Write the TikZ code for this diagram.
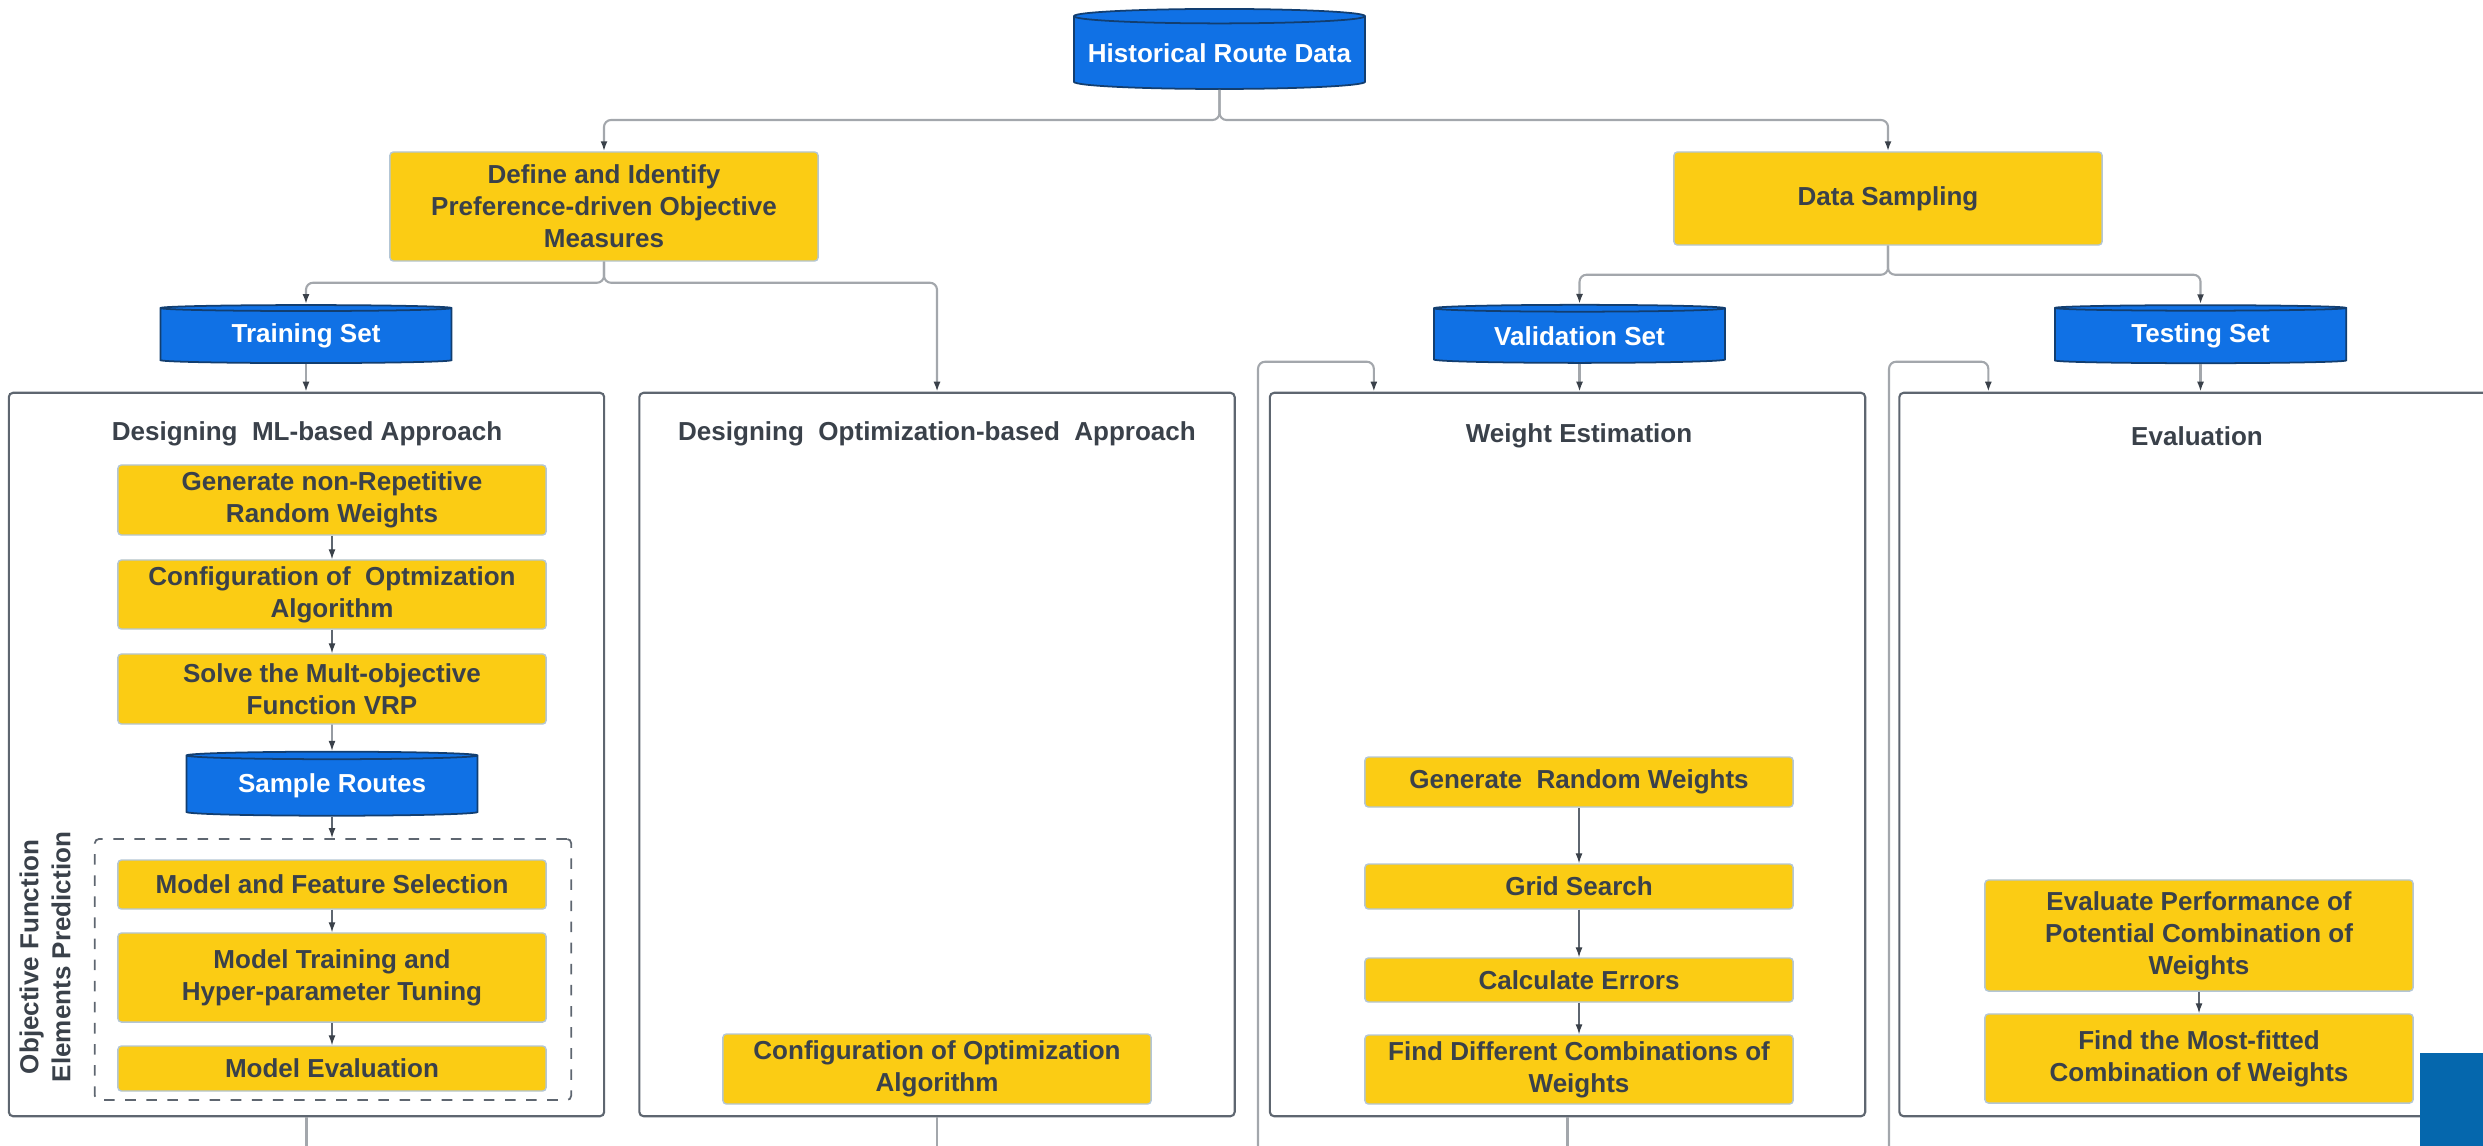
\documentclass[tikz,border=0pt]{standalone}
\usepackage{fontspec}
\setmainfont{Liberation Sans}
\usetikzlibrary{shapes.geometric,arrows.meta}

\definecolor{taskyellow}{HTML}{FBCC14}
\definecolor{taskrim}{HTML}{B3C6D6}
\definecolor{dbblue}{HTML}{1071E5}
\definecolor{dbrim}{HTML}{123E70}
\definecolor{txtgrey}{HTML}{3A414A}
\definecolor{framegrey}{HTML}{5E6670}
\definecolor{treegrey}{HTML}{A3A7AC}
\definecolor{legendblue}{HTML}{0567AD}

\newcommand{\boxfont}{\bfseries\fontsize{7.4}{9.1}\selectfont}

\tikzset{
  task/.style={draw=taskrim, fill=taskyellow, line width=0.4pt, rounded corners=1pt,
    text=txtgrey, font=\boxfont, align=center, inner sep=0pt, minimum width=4.28cm},
  db/.style={cylinder, shape border rotate=90, draw=dbrim, fill=dbblue, line width=0.5pt,
    text=white, font=\boxfont, inner sep=0pt, minimum width=2.91cm, aspect=0.04},
  frame/.style={draw=framegrey, line width=0.6pt, rounded corners=1.2pt,
    minimum width=5.95cm, minimum height=7.23cm},
  heading/.style={text=txtgrey, font=\boxfont},
  tree/.style={draw=treegrey, line width=0.6pt, rounded corners=2pt},
  flow/.style={draw=framegrey, line width=0.35pt},
  tip/.style={-{Latex[length=1mm,width=0.7mm,color=txtgrey]}}
}

\begin{document}
\begin{tikzpicture}[x=0.01cm, y=-0.01cm]
    \useasboundingbox (0,0) rectangle (2483,1145);
    \clip (0,0) rectangle (2483,1145);

    % the four stage frames
    \node[frame] (ml) at (306.5,754.5) {};
    \node[frame] (opt) at (937,754.5) {};
    \node[frame] (wgt) at (1567.5,754.5) {};
    \node[frame] (eva) at (2197,754.5) {};

    \node[heading] (mltitle) at (307,434) {Designing~ ML-based Approach};
    \node[heading] (opttitle) at (937,434) {Designing~ Optimization-based~ Approach};
    \node[heading] (wgttitle) at (1579,436) {Weight Estimation};
    \node[heading] (evatitle) at (2197,436) {Evaluation};

    % top of the tree
    \node[db, minimum height=0.80cm, aspect=0.055] (hist) at (1219.5,53) {Historical Route Data};
    \node[task, minimum height=1.09cm] (define) at (604,206.5)
        {Define and Identify\\Preference-driven Objective\\Measures};
    \node[task, minimum height=0.93cm] (sampling) at (1888,198.5) {Data Sampling};

    \node[db, minimum height=0.58cm] (train) at (306,336) {Training Set};
    \node[db, minimum height=0.58cm] (valid) at (1579.5,336) {Validation Set};
    \node[db, minimum height=0.58cm] (test) at (2200.5,336) {Testing Set};

    % ML-based approach
    \node[task, minimum height=0.70cm] (gen) at (332,500) {Generate non-Repetitive\\Random Weights};
    \node[task, minimum height=0.69cm] (conf) at (332,594.5) {Configuration of~ Optmization\\Algorithm};
    \node[task, minimum height=0.70cm] (solve) at (332,689) {Solve the Mult-objective\\Function VRP};
    \node[db, minimum height=0.64cm] (sample) at (332,786) {Sample Routes};

    \node[draw=framegrey, dashed, line width=0.5pt, rounded corners=1.2pt,
        minimum width=4.76cm, minimum height=2.61cm] (pred) at (333,969.5) {};
    \node[heading, rotate=90, align=center] (predlabel) at (45,957)
        {Objective Function\\Elements Prediction};
    \node[task, minimum height=0.49cm] (mfs) at (332,884.5) {Model and Feature Selection};
    \node[task, minimum height=0.89cm] (mtr) at (332,977.5) {Model Training and\\Hyper-parameter Tuning};
    \node[task, minimum height=0.45cm] (mev) at (332,1068.5) {Model Evaluation};

    % optimization-based approach
    \node[task, minimum height=0.70cm] (optconf) at (937,1069) {Configuration of Optimization\\Algorithm};

    % weight estimation
    \node[task, minimum height=0.50cm] (grw) at (1579,782) {Generate~ Random Weights};
    \node[task, minimum height=0.45cm] (grid) at (1579,886.5) {Grid Search};
    \node[task, minimum height=0.44cm] (calc) at (1579,980) {Calculate Errors};
    \node[task, minimum height=0.69cm] (fdc) at (1579,1069.5) {Find Different Combinations of\\Weights};

    % evaluation
    \node[task, minimum height=1.11cm] (evp) at (2199,935.5)
        {Evaluate Performance of\\Potential Combination of\\Weights};
    \node[task, minimum height=0.89cm] (fmf) at (2199,1058.5) {Find the Most-fitted\\Combination of Weights};

    % tree connectors
    \draw[tree, tip] (hist.south) -- (1219.5,120) -| (define.north);
    \draw[tree, tip] (hist.south) -- (1219.5,120) -| (sampling.north);
    \draw[tree, tip] (define.south) -- ++(0,21) -| (train.north);
    \draw[tree, tip] (define.south) -- ++(0,21) -| (opt.north);
    \draw[tree, tip] (sampling.south) -- ++(0,29) -| (valid.north);
    \draw[tree, tip] (sampling.south) -- ++(0,29) -| (test.north);
    \draw[tree, tip] (train.south) -- (train.south |- ml.north);
    \draw[tree, tip] (valid.south) -- (valid.south |- wgt.north);
    \draw[tree, tip] (test.south) -- (test.south |- eva.north);

    % loops coming back from below
    \coordinate (wgtback) at (1258,1160);
    \coordinate (evaback) at (1889,1160);
    \draw[tree, tip] (wgtback) |- ([xshift=1.05cm, yshift=0.30cm]wgt.north west)
        -- ([xshift=1.05cm]wgt.north west);
    \draw[tree, tip] (evaback) |- ([xshift=0.90cm, yshift=0.30cm]eva.north west)
        -- ([xshift=0.90cm]eva.north west);

    % lines leaving at the bottom
    \draw[tree] (ml.south) -- ++(0,40);
    \draw[tree] (opt.south) -- ++(0,40);
    \draw[tree] (wgt.south) -- ++(0,40);

    % inner flows
    \draw[flow, tip] (gen) -- (conf);
    \draw[flow, tip] (conf) -- (solve);
    \draw[flow, tip] (solve) -- (sample);
    \draw[flow, tip] (sample.south) -- (sample.south |- pred.north);
    \draw[flow, tip] (mfs) -- (mtr);
    \draw[flow, tip] (mtr) -- (mev);
    \draw[flow, tip] (grw) -- (grid);
    \draw[flow, tip] (grid) -- (calc);
    \draw[flow, tip] (calc) -- (fdc);
    \draw[flow, tip] (evp) -- (fmf);

    % cut-off block at the lower right
    \fill[legendblue] (2420,1053) rectangle (2500,1160);
\end{tikzpicture}
\end{document}
